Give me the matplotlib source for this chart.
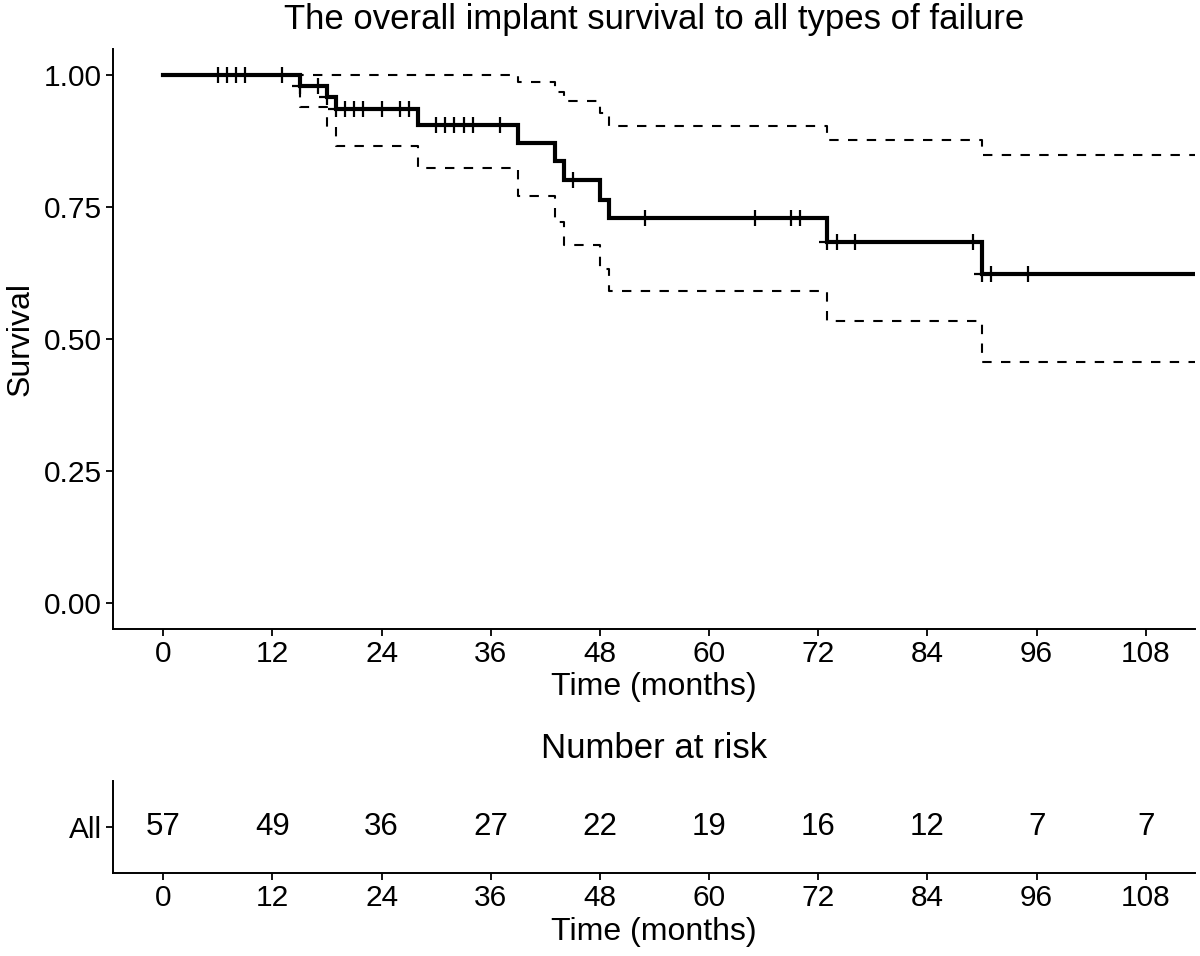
import matplotlib
matplotlib.use("Agg")
import matplotlib.pyplot as plt
import numpy as np

plt.rcParams['font.family'] = ['Liberation Sans', 'DejaVu Sans']

# ---- data ----
step_times = [0, 15, 18, 19, 28, 39, 43, 44, 48, 49, 73, 90]
surv       = [1.000, 0.979, 0.958, 0.936, 0.905, 0.871, 0.837, 0.802, 0.764, 0.729, 0.683, 0.622]
upper_ci   = [1.000, 1.000, 1.000, 1.000, 1.000, 0.986, 0.967, 0.950, 0.929, 0.904, 0.877, 0.849]
lower_ci   = [1.000, 0.939, 0.901, 0.865, 0.823, 0.771, 0.721, 0.677, 0.633, 0.590, 0.533, 0.456]
t_end = 114
censor_times = [6, 7, 8, 9, 13, 15, 17, 18, 19, 20, 21, 22, 24, 26, 27,
                30, 31, 32, 33, 34, 37, 45, 53, 65, 69, 70, 73, 74, 76, 89,
                90, 91, 95]
risk_times = [0, 12, 24, 36, 48, 60, 72, 84, 96, 108]
risk_counts = [57, 49, 36, 27, 22, 19, 16, 12, 7, 7]
y_ticks = [0.00, 0.25, 0.50, 0.75, 1.00]

title = "The overall implant survival to all types of failure"
risk_title = "Number at risk"
xlabel = "Time (months)"
ylabel = "Survival"

# ---- figure ----
fig = plt.figure(figsize=(12, 9.56), dpi=100)
ax = fig.add_axes([0.0944, 0.342, 0.9014, 0.6071])
axr = fig.add_axes([0.0944, 0.0865, 0.9014, 0.0969])

xlim = (-5.5, 113.4)

def step_xy(vals):
    x = list(step_times) + [t_end]
    y = list(vals) + [vals[-1]]
    return x, y

sx, sy = step_xy(surv)
ux, uy = step_xy(upper_ci)
lx, ly = step_xy(lower_ci)

dash = (0, (4.5, 4.5))
ax.step(ux, uy, where='post', color='black', lw=1.5, linestyle=dash)
ax.step(lx, ly, where='post', color='black', lw=1.5, linestyle=dash)
ax.step(sx, sy, where='post', color='black', lw=3.0, solid_joinstyle='miter')

st = np.array(step_times)
cy = [surv[np.searchsorted(st, t, side='right') - 1] for t in censor_times]
ax.plot(censor_times, cy, linestyle='none', marker='+', color='black',
        markersize=12, markeredgewidth=1.6)

ax.set_xlim(*xlim)
ax.set_ylim(-0.05, 1.05)
ax.set_xticks(risk_times)
ax.set_yticks(y_ticks)
ax.set_yticklabels([f"{v:.2f}" for v in y_ticks])
ax.set_title(title, fontsize=25, pad=14)
ax.set_xlabel(xlabel, fontsize=23, labelpad=3)
ax.set_ylabel(ylabel, fontsize=23, labelpad=6)

for a in (ax, axr):
    a.spines['top'].set_visible(False)
    a.spines['right'].set_visible(False)
    for s in ('left', 'bottom'):
        a.spines[s].set_linewidth(1.4)
    a.tick_params(axis='both', labelsize=21.5, length=5, width=1.3, color='black', pad=3)

# risk table
axr.set_xlim(*xlim)
axr.set_ylim(0, 1)
axr.set_xticks(risk_times)
axr.set_yticks([0.5])
axr.set_yticklabels(["All"])
for t, n in zip(risk_times, risk_counts):
    axr.text(t, 0.5, str(n), ha='center', va='center', fontsize=22.5)
axr.set_title(risk_title, fontsize=25, pad=16)
axr.set_xlabel(xlabel, fontsize=23, labelpad=3)

fig.savefig("out.png", dpi=100)
